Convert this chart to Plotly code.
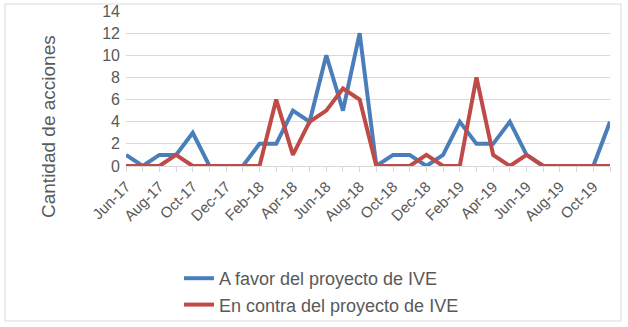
import plotly.graph_objects as go

months = ["Jun-17","Jul-17","Aug-17","Sep-17","Oct-17","Nov-17","Dec-17",
          "Jan-18","Feb-18","Mar-18","Apr-18","May-18","Jun-18","Jul-18","Aug-18",
          "Sep-18","Oct-18","Nov-18","Dec-18","Jan-19","Feb-19","Mar-19","Apr-19",
          "May-19","Jun-19","Jul-19","Aug-19","Sep-19","Oct-19","Nov-19"]
a_favor = [1,0,1,1,3,0,0,0,2,2,5,4,10,5,12,0,1,1,0,1,4,2,2,4,1,0,0,0,0,4]
en_contra = [0,0,0,1,0,0,0,0,0,6,1,4,5,7,6,0,0,0,1,0,0,8,1,0,1,0,0,0,0,0]
tick_text = [m if i % 2 == 0 else "" for i, m in enumerate(months)]
y_ticks = list(range(0, 15, 2))

W, H = 628, 327
ml, mr, mt, mb = 126, 18, 11, 161

fig = go.Figure()
fig.add_trace(go.Scatter(x=months, y=a_favor, mode="lines", name="A favor del proyecto de IVE",
                         line=dict(color="#4A7EBB", width=4)))
fig.add_trace(go.Scatter(x=months, y=en_contra, mode="lines", name="En contra del proyecto de IVE",
                         line=dict(color="#BE4B48", width=4)))

pw = W - ml - mr
ph = H - mt - mb
def px_x(x): return (x - ml) / pw
def px_y(y): return (H - mb - y) / ph

fig.add_shape(type="rect", xref="paper", yref="paper",
              x0=px_x(5), x1=px_x(621), y0=px_y(321), y1=px_y(4),
              line=dict(color="#D9D9D9", width=1), fillcolor="rgba(0,0,0,0)", layer="below")

fig.add_annotation(text="Cantidad de acciones", xref="paper", yref="paper",
                   x=px_x(48), y=px_y(127), xanchor="center", yanchor="middle",
                   textangle=-90, showarrow=False,
                   font=dict(size=19, color="#595959"))

fig.update_layout(
    width=W, height=H,
    margin=dict(l=ml, r=mr, t=mt, b=mb, autoexpand=False),
    paper_bgcolor="white", plot_bgcolor="white",
    font=dict(family="Liberation Sans, Arial, sans-serif", color="#595959"),
    showlegend=True,
    legend=dict(x=px_x(179), y=px_y(260), xanchor="left", yanchor="top",
                font=dict(size=18, color="#595959"), bgcolor="rgba(0,0,0,0)",
                tracegroupgap=0),
    xaxis=dict(type="category", range=[0, len(months) - 1], automargin=False,
               tickmode="array", tickvals=months, ticktext=tick_text,
               tickangle=-45, tickfont=dict(size=15, color="#595959"),
               ticks="outside", ticklen=5, tickcolor="#D9D9D9",
               showgrid=False, showline=True, linecolor="#D9D9D9", linewidth=1,
               zeroline=False),
    yaxis=dict(range=[0, 14], tickvals=y_ticks, tickfont=dict(size=16, color="#595959"),
               automargin=False, ticklabelstandoff=5,
               showgrid=True, gridcolor="#D9D9D9", gridwidth=1, zeroline=False,
               showline=False, ticks=""),
)

fig.write_html("out.html", config={"displayModeBar": False},
               post_script="document.body.style.margin='0';document.body.style.overflow='hidden';")
